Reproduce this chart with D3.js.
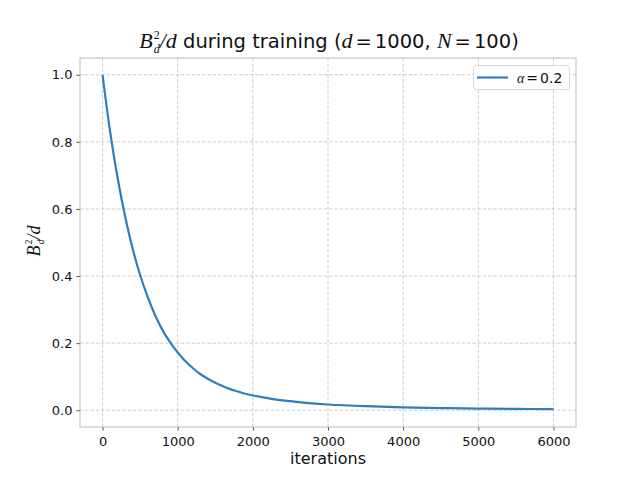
<!DOCTYPE html>
<html><head><meta charset="utf-8">
<script src="https://cdn.jsdelivr.net/npm/d3@7"></script>
<style>body{margin:0;background:#fff}svg{display:block}</style>
</head><body>
<svg id="c" width="640" height="480"></svg>
<script>
const iterations = [0,100,200,300,400,500,600,700,800,900,1000,1100,1200,1300,1400,1500,1600,1700,1800,1900,2000,2250,2500,2750,3000,3500,4000,4500,5000,5500,6000];
const values = [1.0,0.832,0.693,0.578,0.482,0.403,0.338,0.283,0.238,0.202,0.172,0.147,0.126,0.108,0.094,0.082,0.072,0.063,0.056,0.049,0.044,0.034,0.027,0.021,0.017,0.012,0.0086,0.0065,0.0050,0.0040,0.0032];
const xTicks = [0,1000,2000,3000,4000,5000,6000];
const yTicks = [0.0,0.2,0.4,0.6,0.8,1.0];
const seriesLabel = "0.2";

const svg = d3.select("#c");
const L=80,R=576,T=58,B=427;
const x = d3.scaleLinear().domain([-300,6300]).range([L,R]);
const y = d3.scaleLinear().domain([-0.05,1.05]).range([B,T]);
const sans = "DejaVu Sans";
const serif = "Liberation Serif";

// grid
const g = svg.append("g");
g.selectAll("line.gx").data(xTicks).join("line")
  .attr("x1",d=>x(d)).attr("x2",d=>x(d)).attr("y1",T).attr("y2",B)
  .attr("stroke","#b8b8b8").attr("stroke-width",0.7).attr("stroke-dasharray","3.5,1.8");
g.selectAll("line.gy").data(yTicks).join("line")
  .attr("y1",d=>y(d)).attr("y2",d=>y(d)).attr("x1",L).attr("x2",R)
  .attr("stroke","#b8b8b8").attr("stroke-width",0.7).attr("stroke-dasharray","3.5,1.8");

// axes
const xa = svg.append("g").attr("transform",`translate(0,${B})`)
  .call(d3.axisBottom(x).tickValues(xTicks).tickFormat(d3.format("d")).tickSize(3.5).tickPadding(4));
const ya = svg.append("g").attr("transform",`translate(${L},0)`)
  .call(d3.axisLeft(y).tickValues(yTicks).tickFormat(d3.format(".1f")).tickSize(3.5).tickPadding(4));
[xa,ya].forEach(a=>{
  a.select(".domain").remove();
  a.selectAll(".tick line").attr("stroke","#222").attr("stroke-width",0.8);
  a.selectAll(".tick text").attr("font-family",sans).attr("font-size",13).attr("fill","#111");
});
xa.selectAll(".tick text").attr("dy","0.9em");

// line
svg.append("path").datum(iterations.map((d,i)=>[d,values[i]]))
  .attr("fill","none").attr("stroke","#2e7ebb").attr("stroke-width",2.2)
  .attr("d",d3.line().x(d=>x(d[0])).y(d=>y(d[1])).curve(d3.curveCatmullRom.alpha(0.5)));

// frame
svg.append("rect").attr("x",L).attr("y",T).attr("width",R-L).attr("height",B-T)
  .attr("fill","none").attr("stroke","#bcbcbc").attr("stroke-width",1);

// legend
svg.append("rect").attr("x",473.5).attr("y",65.5).attr("width",96).attr("height",24).attr("rx",3)
  .attr("fill","#fff").attr("fill-opacity",0.85).attr("stroke","#d8d8d8").attr("stroke-width",1);
svg.append("line").attr("x1",477).attr("x2",508).attr("y1",77.5).attr("y2",77.5)
  .attr("stroke","#2e7ebb").attr("stroke-width",2.2);
const lt = svg.append("text").attr("x",517).attr("y",82.5).attr("font-size",14).attr("fill","#111");
lt.append("tspan").attr("font-family",serif).attr("font-style","italic").text("α");
lt.append("tspan").attr("font-family",sans).attr("dx",2).text("=");
lt.append("tspan").attr("font-family",sans).attr("dx",2).text(seriesLabel);

// title
const tt = svg.append("text").attr("x",329).attr("y",48).attr("text-anchor","middle").attr("font-size",19.5).attr("fill","#111");
tt.append("tspan").attr("font-family",serif).attr("font-style","italic").attr("font-size",22).text("B");
tt.append("tspan").attr("font-family",serif).attr("font-size",12).attr("dy",-9).attr("dx",1).text("2");
tt.append("tspan").attr("font-family",serif).attr("font-style","italic").attr("font-size",12).attr("dy",14).attr("dx",-6).text("d");
tt.append("tspan").attr("font-family",serif).attr("font-style","italic").attr("font-size",22).attr("dy",-5).text("/d");
tt.append("tspan").attr("font-family",sans).text(" during training (");
tt.append("tspan").attr("font-family",serif).attr("font-style","italic").attr("font-size",22).text("d");
tt.append("tspan").attr("font-family",sans).attr("dx",3).text("=");
tt.append("tspan").attr("font-family",sans).attr("dx",3).text("1000, ");
tt.append("tspan").attr("font-family",serif).attr("font-style","italic").attr("font-size",22).text("N");
tt.append("tspan").attr("font-family",sans).attr("dx",3).text("=");
tt.append("tspan").attr("font-family",sans).attr("dx",3).text("100)");

// x label
svg.append("text").attr("x",328).attr("y",464).attr("text-anchor","middle")
  .attr("font-family",sans).attr("font-size",16).attr("fill","#111").text("iterations");

// y label
const yl = svg.append("text").attr("transform","translate(40,241) rotate(-90)").attr("text-anchor","middle")
  .attr("font-size",18).attr("fill","#111");
yl.append("tspan").attr("font-family",serif).attr("font-style","italic").text("B");
yl.append("tspan").attr("font-family",serif).attr("font-size",10).attr("dy",-8).attr("dx",1).text("2");
yl.append("tspan").attr("font-family",serif).attr("font-style","italic").attr("font-size",10).attr("dy",12).attr("dx",-5).text("d");
yl.append("tspan").attr("font-family",serif).attr("font-style","italic").attr("dy",-4).text("/d");
</script>
</body></html>
